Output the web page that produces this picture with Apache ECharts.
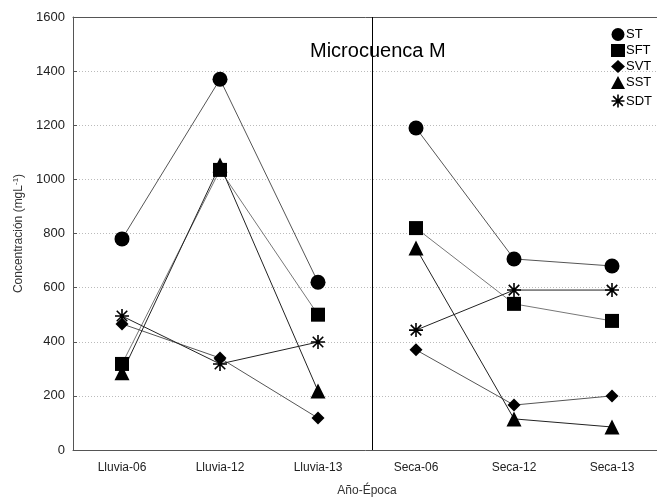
<!DOCTYPE html>
<html>
<head>
<meta charset="utf-8">
<script src="https://cdn.jsdelivr.net/npm/echarts@6/dist/echarts.min.js"></script>
<style>
    html, body {margin: 0; padding: 0; background: #fff;}
    #chart_main {width: 657px; height: 498px;}
</style>
</head>
<body>
<div id="chart_main"></div>
<script>
var categories = ['Lluvia-06', 'Lluvia-12', 'Lluvia-13', 'Seca-06', 'Seca-12', 'Seca-13'];
var yTicks = [0, 200, 400, 600, 800, 1000, 1200, 1400, 1600];
var divideAt = 3; // frontera entre Lluvia y Seca

var stVals  = [780, 1370, 620, 1190, 706, 680];
var sftVals = [318, 1035, 500, 820, 540, 477];
var svtVals = [466, 340, 118, 370, 166, 200];
var sstVals = [285, 1053, 218, 746, 115, 85];
var sdtVals = [495, 318, 399, 443, 591, 591];

var starPath = 'path://M0,8L16,8M8,0L8,16M2,2L14,14M14,2L2,14';

var fontName = 'Liberation Sans';

function part(vals, from, to) {
    var out = [];
    for (var i = 0; i < vals.length; i++) {
        out.push(i >= from && i < to ? vals[i] : '-');
    }
    return out;
}

var solidStyle = {color: '#000', borderWidth: 0};
var strokeStyle = {color: 'none', borderColor: '#000', borderWidth: 1.6};

function makeSeries(name, vals, symbol, size, lineColor, stroke) {
    var list = [];
    var pieces = [[0, divideAt], [divideAt, vals.length]];
    for (var k = 0; k < pieces.length; k++) {
        list.push({
            name: name,
            type: 'line',
            data: part(vals, pieces[k][0], pieces[k][1]),
            symbol: symbol,
            symbolSize: size,
            showAllSymbol: true,
            z: 3,
            lineStyle: {color: lineColor, width: 1},
            itemStyle: stroke ? strokeStyle : solidStyle
        });
    }
    return list;
}

var myChart = echarts.init(document.getElementById('chart_main'));

var series = []
    .concat(makeSeries('ST', stVals, 'circle', 15, '#555', false))
    .concat(makeSeries('SFT', sftVals, 'rect', 14, '#777', false))
    .concat(makeSeries('SVT', svtVals, 'diamond', 13, '#555', false))
    .concat(makeSeries('SST', sstVals, 'triangle', 15, '#222', false))
    .concat(makeSeries('SDT', sdtVals, starPath, 14, '#222', true));

// línea vertical separando épocas (un poco a la derecha del punto medio, como el original)
series.push({
    type: 'line',
    xAxisIndex: 2,
    data: [],
    silent: true,
    markLine: {
        silent: true,
        symbol: 'none',
        label: {show: false},
        lineStyle: {color: '#000', width: 1, type: 'solid'},
        data: [{xAxis: divideAt + 0.05}]
    }
});

var option = {
    animation: false,
    textStyle: {fontFamily: fontName},
    title: {
        text: 'Microcuenca M',
        left: 305,
        top: 36,
        textStyle: {fontFamily: fontName, fontSize: 20, fontWeight: 'normal', color: '#000'}
    },
    legend: {
        orient: 'vertical',
        left: 604,
        top: 23,
        itemGap: 3,
        itemWidth: 14,
        itemHeight: 13,
        data: [
            {name: 'ST', icon: 'circle', itemStyle: solidStyle},
            {name: 'SFT', icon: 'rect', itemStyle: solidStyle},
            {name: 'SVT', icon: 'diamond', itemStyle: solidStyle},
            {name: 'SST', icon: 'triangle', itemStyle: solidStyle},
            {name: 'SDT', icon: starPath, itemStyle: strokeStyle}
        ],
        textStyle: {fontFamily: fontName, fontSize: 13, color: '#000', padding: [0, 0, 0, -4]}
    },
    grid: {
        left: 73,
        top: 17,
        width: 588,
        bottom: 48,
        containLabel: false,
        outerBoundsMode: 'none'
    },
    xAxis: [
        {
            type: 'category',
            data: categories,
            boundaryGap: true,
            name: 'Año-Época',
            nameLocation: 'middle',
            nameGap: 35,
            nameTextStyle: {fontFamily: fontName, fontSize: 12, color: '#333'},
            axisLine: {lineStyle: {color: '#555', width: 1}},
            axisTick: {inside: true, alignWithLabel: true, length: 4, lineStyle: {color: '#555'}},
            axisLabel: {fontFamily: fontName, fontSize: 12, color: '#222', margin: 12},
            splitLine: {show: false}
        },
        {
            type: 'category',
            data: categories,
            position: 'top',
            boundaryGap: true,
            axisLine: {lineStyle: {color: '#555', width: 1}},
            axisTick: {inside: true, alignWithLabel: true, length: 4, lineStyle: {color: '#555'}},
            axisLabel: {show: false},
            splitLine: {show: false}
        },
        {
            type: 'value',
            min: 0,
            max: categories.length,
            show: false
        }
    ],
    yAxis: {
        type: 'value',
        min: yTicks[0],
        max: yTicks[yTicks.length - 1],
        interval: yTicks[1] - yTicks[0],
        name: 'Concentración (mgL{sup|-1})',
        nameLocation: 'middle',
        nameGap: 45,
        nameTextStyle: {
            fontFamily: fontName, fontSize: 12, color: '#333',
            rich: {sup: {fontSize: 8, verticalAlign: 'top', padding: [0, 0, 6, 0], color: '#333'}}
        },
        axisLine: {show: true, lineStyle: {color: '#555', width: 1}},
        axisTick: {show: true, inside: true, length: 4, lineStyle: {color: '#555'}},
        axisLabel: {
            fontFamily: fontName, fontSize: 13, color: '#222', margin: 8,
            formatter: function (v) { return String(v); }
        },
        splitLine: {show: true, lineStyle: {color: '#bbb', type: [1, 2], width: 1}}
    },
    series: series
};
myChart.setOption(option);
</script>
</body>
</html>
